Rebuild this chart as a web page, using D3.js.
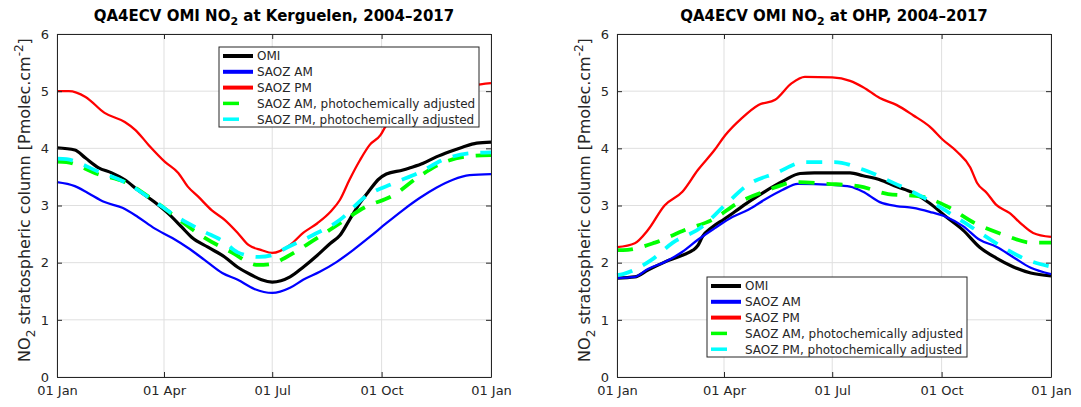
<!DOCTYPE html>
<html><head><meta charset="utf-8">
<script src="https://cdn.jsdelivr.net/npm/d3@7"></script>
<style>
body{margin:0;background:#fff;}
svg{font-family:"DejaVu Sans",sans-serif;}
</style></head>
<body><svg id="c" width="1081" height="407"></svg>
<script>
// ---------- DATA ----------
const xTickDays = [0, 90, 181, 273, 365];
const xTickLabels = ["01 Jan", "01 Apr", "01 Jul", "01 Oct", "01 Jan"];
const yTicks = [0, 1, 2, 3, 4, 5, 6];
const seriesNames = ["OMI", "SAOZ AM", "SAOZ PM", "SAOZ AM, photochemically adjusted", "SAOZ PM, photochemically adjusted"];

// Kerguelen
const kerOmiDays = [0,15,24,35,46,57,68,82,93,105,113,127,141,152,164,172,181,196,207,219,230,238,246,255,263,270,277,291,297,308,319,330,341,353,365];
const kerOmi     = [4.01,3.97,3.83,3.66,3.57,3.45,3.27,3.06,2.87,2.62,2.45,2.27,2.10,1.92,1.78,1.70,1.66,1.75,1.92,2.13,2.34,2.48,2.75,3.05,3.27,3.45,3.55,3.62,3.66,3.74,3.85,3.94,4.02,4.09,4.11];
const kerAmDays  = [0,15,26,40,55,68,82,97,110,124,139,152,166,181,196,207,221,235,249,263,277,291,305,319,333,347,365];
const kerAm      = [3.41,3.34,3.22,3.06,2.96,2.80,2.60,2.43,2.26,2.05,1.82,1.70,1.54,1.47,1.56,1.70,1.84,2.01,2.22,2.45,2.69,2.92,3.13,3.31,3.45,3.53,3.55];
const kerPmDays  = [0,10,24,40,57,66,77,91,102,110,119,130,141,152,161,172,181,196,207,219,230,238,246,255,263,272,276,290,310,330,350,365];
const kerPm      = [5.00,5.00,4.90,4.62,4.46,4.32,4.06,3.76,3.57,3.33,3.15,2.92,2.75,2.52,2.31,2.22,2.17,2.31,2.52,2.69,2.89,3.10,3.45,3.80,4.06,4.23,4.37,4.60,4.85,5.00,5.10,5.14];
const kerAmAdjDays = [0,8,34,57,80,101,123,146,169,181,193,215,238,259,283,304,326,351,365];
const kerAmAdj     = [3.77,3.76,3.55,3.41,3.11,2.78,2.45,2.19,1.96,1.98,2.10,2.38,2.69,2.97,3.18,3.50,3.76,3.87,3.88];
const kerPmAdjDays = [0,8,34,57,80,101,123,140,152,170,181,193,215,238,259,283,304,326,351,365];
const kerPmAdj     = [3.82,3.81,3.60,3.41,3.10,2.80,2.55,2.37,2.18,2.10,2.13,2.26,2.48,2.75,3.15,3.39,3.57,3.81,3.92,3.93];

// OHP
const ohpOmiDays = [0,15,26,40,55,64,68,72,80,90,99,112,124,140,154,166,181,196,207,221,235,249,263,277,291,305,319,333,348,365];
const ohpOmi     = [1.73,1.75,1.87,2.01,2.13,2.22,2.30,2.46,2.62,2.76,2.89,3.08,3.24,3.43,3.56,3.57,3.57,3.57,3.52,3.45,3.33,3.22,3.04,2.80,2.57,2.27,2.08,1.93,1.82,1.77];
const ohpAmDays  = [0,15,26,40,55,68,82,97,110,124,139,152,181,196,207,221,235,249,263,277,291,305,319,333,348,365];
const ohpAm      = [1.73,1.75,1.89,2.01,2.19,2.40,2.60,2.80,2.92,3.10,3.27,3.38,3.36,3.33,3.24,3.06,2.99,2.96,2.89,2.80,2.64,2.40,2.28,2.10,1.91,1.80];
const ohpPmDays  = [0,15,26,40,55,68,82,91,105,119,133,147,158,181,196,207,221,235,249,263,274,286,297,303,311,319,330,341,350,365];
const ohpPm      = [2.27,2.34,2.57,3.00,3.24,3.62,3.97,4.23,4.53,4.76,4.85,5.14,5.25,5.24,5.18,5.07,4.88,4.76,4.58,4.38,4.15,3.94,3.67,3.39,3.22,3.01,2.87,2.66,2.52,2.45];
const ohpAmAdjDays = [0,5,32,57,81,102,126,150,177,203,228,255,278,301,325,349,365];
const ohpAmAdj     = [2.22,2.22,2.35,2.57,2.76,3.05,3.26,3.41,3.38,3.34,3.20,3.16,2.98,2.69,2.49,2.35,2.35];
const ohpPmAdjDays = [0,5,29,47,71,91,110,134,158,183,208,232,256,278,299,322,345,365];
const ohpPmAdj     = [1.78,1.80,2.05,2.35,2.62,3.01,3.36,3.57,3.76,3.76,3.62,3.40,3.16,2.89,2.61,2.30,2.05,1.93];

// ---------- DRAW ----------
const svg = d3.select("#c");
const axisCol = "#262626";
const styles = [
  {color:"#000000", width:3.2, dash:null},
  {color:"#0000ff", width:2.3, dash:null},
  {color:"#ff0000", width:2.3, dash:null},
  {color:"#00ff00", width:3.8, dash:"16,12"},
  {color:"#00ffff", width:3.8, dash:"16,12"}
];

function panel(opt){
  const g = svg.append("g");
  const x = d3.scaleLinear().domain([0,365]).range([opt.x0, opt.x1]);
  const y = d3.scaleLinear().domain([0,6]).range([377, 34]);

  // grid
  g.append("g").selectAll("line").data(xTickDays).join("line")
    .attr("x1", d=>x(d)).attr("x2", d=>x(d)).attr("y1", y(0)).attr("y2", y(6))
    .attr("stroke", "#dfdfdf").attr("stroke-width", 1);
  g.append("g").selectAll("line").data(yTicks).join("line")
    .attr("x1", x(0)).attr("x2", x(365)).attr("y1", d=>y(d)).attr("y2", d=>y(d))
    .attr("stroke", "#dfdfdf").attr("stroke-width", 1);

  // lines
  const line = d3.line().x(d=>x(d[0])).y(d=>y(d[1])).curve(d3.curveMonotoneX);
  opt.series.forEach((s,i)=>{
    const pts = s.days.map((d,k)=>[d, s.vals[k]]);
    const p = g.append("path").datum(pts).attr("d", line)
      .attr("fill","none").attr("stroke", styles[i].color)
      .attr("stroke-width", styles[i].width).attr("stroke-linejoin","round");
    if (styles[i].dash) p.attr("stroke-dasharray", styles[i].dash);
  });

  // axes box with inward ticks
  const axB = d3.axisBottom(x).tickValues(xTickDays).tickFormat((d,i)=>xTickLabels[i]).tickSizeInner(-5).tickSizeOuter(0).tickPadding(9);
  const axT = d3.axisTop(x).tickValues(xTickDays).tickFormat("").tickSizeInner(-5).tickSizeOuter(0);
  const axL = d3.axisLeft(y).tickValues(yTicks).tickFormat(d3.format("d")).tickSizeInner(-5).tickSizeOuter(0).tickPadding(8);
  const axR = d3.axisRight(y).tickValues(yTicks).tickFormat("").tickSizeInner(-5).tickSizeOuter(0);
  const gb = g.append("g").attr("transform", `translate(0,${y(0)})`).call(axB);
  const gt = g.append("g").attr("transform", `translate(0,${y(6)})`).call(axT);
  const gl = g.append("g").attr("transform", `translate(${x(0)},0)`).call(axL);
  const gr = g.append("g").attr("transform", `translate(${x(365)},0)`).call(axR);
  [gb,gt,gl,gr].forEach(a=>{
    a.selectAll("path").attr("stroke", axisCol).attr("stroke-width",1);
    a.selectAll("line").attr("stroke", axisCol);
    a.selectAll("text").attr("fill", axisCol).style("font-size","13px").style("font-family","DejaVu Sans");
  });

  // title
  const t = g.append("text").attr("x", (opt.x0+opt.x1)/2).attr("y", 21)
    .attr("text-anchor","middle").style("font-weight","bold").style("font-size","15px").attr("fill","#000");
  t.append("tspan").text(opt.titleA);
  t.append("tspan").attr("dy",4).style("font-size","11px").text("2");
  t.append("tspan").attr("dy",-4).text(opt.titleB);

  // y label
  const yl = g.append("text").attr("transform", `translate(${opt.x0-27},200) rotate(-90)`)
    .attr("text-anchor","middle").style("font-size","16px").attr("fill", axisCol);
  yl.append("tspan").text("NO");
  yl.append("tspan").attr("dy",5).style("font-size","12px").text("2");
  yl.append("tspan").attr("dy",-5).text(" stratospheric column [Pmolec.cm");
  yl.append("tspan").attr("dy",-7).style("font-size","12px").text("-2");
  yl.append("tspan").attr("dy",7).text("]");

  // legend
  const lg = g.append("g").attr("transform", `translate(${opt.lx},${opt.ly})`);
  lg.append("rect").attr("x",0).attr("y",0).attr("width",260).attr("height",80)
    .attr("fill","#fff").attr("stroke", axisCol).attr("stroke-width",1);
  seriesNames.forEach((n,i)=>{
    const yy = 9 + i*15.8;
    lg.append("line").attr("x1",4).attr("x2", styles[i].dash ? 20 : 34).attr("y1",yy).attr("y2",yy)
      .attr("stroke", styles[i].color).attr("stroke-width", styles[i].dash ? 3.5 : 4);
    lg.append("text").attr("x",38).attr("y",yy+4.3).text(n)
      .style("font-size","12px").attr("fill", axisCol);
  });
}

panel({x0:57, x1:491, titleA:"QA4ECV OMI NO", titleB:" at Kerguelen, 2004–2017", lx:219, ly:47,
  series:[{days:kerOmiDays, vals:kerOmi},{days:kerAmDays, vals:kerAm},{days:kerPmDays, vals:kerPm},
          {days:kerAmAdjDays, vals:kerAmAdj},{days:kerPmAdjDays, vals:kerPmAdj}]});
panel({x0:617, x1:1051, titleA:"QA4ECV OMI NO", titleB:" at OHP, 2004–2017", lx:707, ly:277,
  series:[{days:ohpOmiDays, vals:ohpOmi},{days:ohpAmDays, vals:ohpAm},{days:ohpPmDays, vals:ohpPm},
          {days:ohpAmAdjDays, vals:ohpAmAdj},{days:ohpPmAdjDays, vals:ohpPmAdj}]});
</script>
</body></html>
